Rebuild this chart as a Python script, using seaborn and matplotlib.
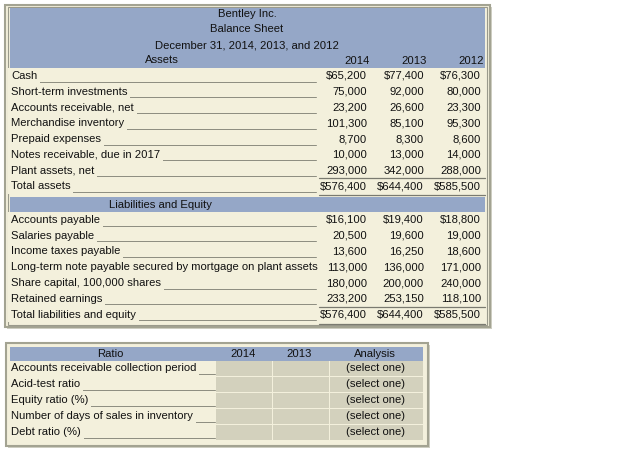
import seaborn as sns
import matplotlib.pyplot as plt
from matplotlib.patches import Rectangle

title_lines = ["Bentley Inc.", "Balance Sheet", "December 31, 2014, 2013, and 2012"]
years = ["2014", "2013", "2012"]

asset_labels = ["Cash", "Short-term investments", "Accounts receivable, net",
                "Merchandise inventory", "Prepaid expenses",
                "Notes receivable, due in 2017", "Plant assets, net", "Total assets"]
asset_2014 = [65200, 75000, 23200, 101300, 8700, 10000, 293000, 576400]
asset_2013 = [77400, 92000, 26600, 85100, 8300, 13000, 342000, 644400]
asset_2012 = [76300, 80000, 23300, 95300, 8600, 14000, 288000, 585500]

liab_labels = ["Accounts payable", "Salaries payable", "Income taxes payable",
               "Long-term note payable secured by mortgage on plant assets",
               "Share capital, 100,000 shares", "Retained earnings",
               "Total liabilities and equity"]
liab_2014 = [16100, 20500, 13600, 113000, 180000, 233200, 576400]
liab_2013 = [19400, 19600, 16250, 136000, 200000, 253150, 644400]
liab_2012 = [18800, 19000, 18600, 171000, 240000, 118100, 585500]

ratio_labels = ["Accounts receivable collection period", "Acid-test ratio",
                "Equity ratio (%)", "Number of days of sales in inventory",
                "Debt ratio (%)"]
ratio_cols = ["Ratio", "2014", "2013", "Analysis"]
analysis = ["(select one)"] * 5

sns.set_theme(style="white")
plt.rcParams['font.family'] = ['Liberation Sans', 'DejaVu Sans']

BLUE = "#95a7c7"
CREAM = "#f3f0dc"
GRAY = "#d3d1bd"
EDGE = "#a3a392"
TXT = "#111111"
FS = 8.1

fig = plt.figure(figsize=(6.24, 4.53), dpi=100)
ax = fig.add_axes([0, 0, 1, 1])
ax.set_xlim(0, 624)
ax.set_ylim(453, 0)
ax.axis("off")


def box(x0, y0, x1, y1, **kw):
    ax.add_patch(Rectangle((x0, y0), x1 - x0, y1 - y0, **kw))


def fmt(v, dollar):
    return ("$" if dollar else "") + f"{v:,}"


def label(y, text, x_end):
    # underline runs behind the label; the label's cream box hides it under the text
    ax.plot([11, x_end], [y + 5.5, y + 5.5], color="#8c8c80", lw=0.7, zorder=2)
    ax.text(11, y, text, ha="left", va="center", fontsize=FS, color=TXT, zorder=3,
            bbox=dict(boxstyle="square,pad=0.25", fc=CREAM, ec="none"))


# ---- balance sheet panel ----
box(7, 7, 492, 329, facecolor="#cfcfc4", edgecolor="none")          # shadow
box(5, 5, 490, 327, facecolor=CREAM, edgecolor=EDGE, lw=1.5)
box(8, 7, 487, 325, facecolor="none", edgecolor="#9a9a8c", lw=0.8)
box(10, 8, 485, 68, facecolor=BLUE, edgecolor="none", zorder=4)
for i, t in enumerate(title_lines):
    ax.text(247, 14 + i * 15.5, t, ha="center", va="center", fontsize=FS, color=TXT, zorder=5)
ax.text(162, 60, "Assets", ha="center", va="center", fontsize=FS, color=TXT, zorder=5)
col_right = [367, 424, 481]
for x, y in zip(col_right, years):
    ax.text(x - 10, 61, y, ha="center", va="center", fontsize=FS, color=TXT, zorder=5)


def block(labels, cols, y0, step):
    n = len(labels)
    for i, lab in enumerate(labels):
        y = y0 + i * step
        total = i == n - 1
        label(y, lab, 316)
        for x, vals in zip(col_right, cols):
            ax.text(x, y, fmt(vals[i], i == 0 or total), ha="right", va="center",
                    fontsize=FS, color=TXT, zorder=3)
        if total:
            ax.plot([319, 485], [y - 8, y - 8], color="#7a7a70", lw=0.9)
            ax.plot([319, 485], [y + 9, y + 9], color="#7a7a70", lw=0.9)


block(asset_labels, [asset_2014, asset_2013, asset_2012], 76, 15.75)
box(10, 197, 485, 212, facecolor=BLUE, edgecolor="none", zorder=4)
ax.text(160, 205, "Liabilities and Equity", ha="center", va="center", fontsize=FS,
        color=TXT, zorder=5)
block(liab_labels, [liab_2014, liab_2013, liab_2012], 220, 15.75)

# ---- ratio panel ----
box(8, 345, 430, 448, facecolor="#cfcfc4", edgecolor="none")
box(6, 343, 428, 446, facecolor=CREAM, edgecolor=EDGE, lw=1.5)
box(10, 347, 423, 361, facecolor=BLUE, edgecolor="none", zorder=4)
head_x = [110, 243, 299, 375]
for x, t in zip(head_x, ratio_cols):
    ax.text(x, 354, t, ha="center", va="center", fontsize=FS, color=TXT, zorder=5)
for i, lab in enumerate(ratio_labels):
    y = 368 + i * 16
    box(216, y - 7, 272, y + 8, facecolor=GRAY, edgecolor="none")
    box(273, y - 7, 329, y + 8, facecolor=GRAY, edgecolor="none")
    box(330, y - 7, 423, y + 8, facecolor=GRAY, edgecolor="none")
    label(y, lab, 215)
    ax.text(375, y, analysis[i], ha="center", va="center", fontsize=FS, color=TXT)

fig.savefig("out.png", dpi=100, facecolor="white")
